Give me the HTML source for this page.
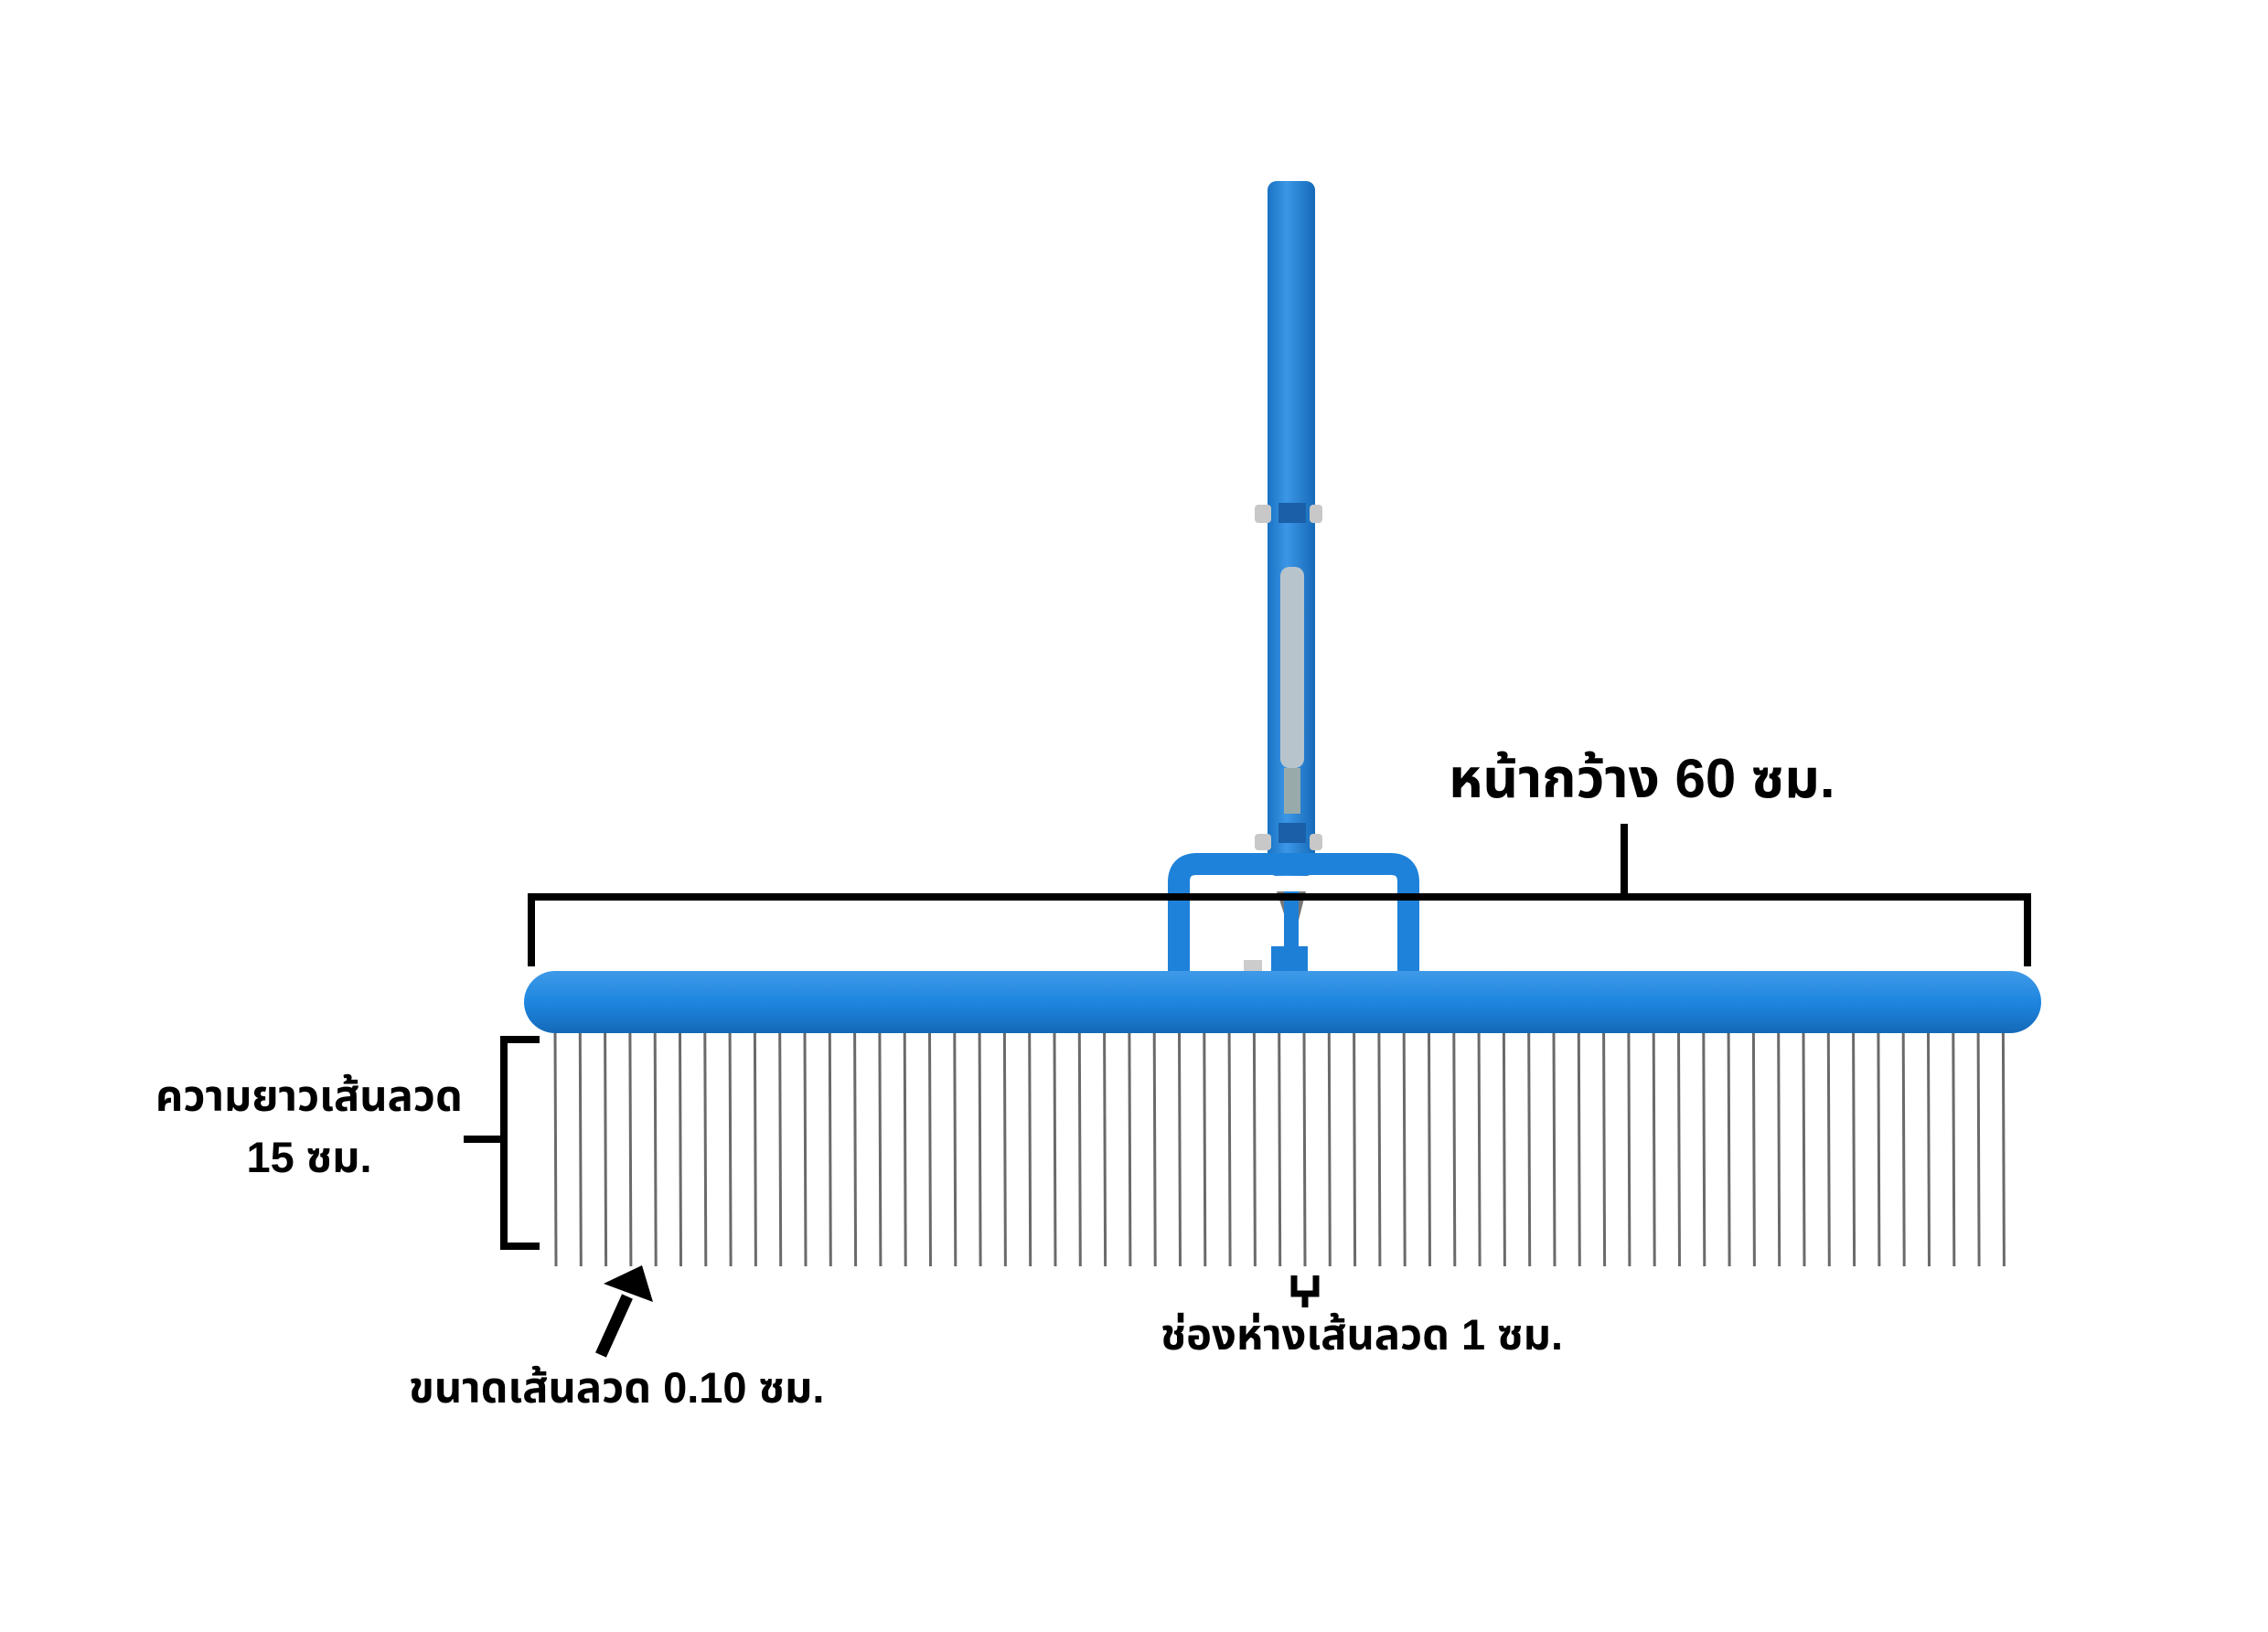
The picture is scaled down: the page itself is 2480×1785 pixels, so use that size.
<!DOCTYPE html>
<html><head><meta charset="utf-8"><style>
html,body{margin:0;padding:0;background:#fff;}
svg{display:block}
text{font-family:"Liberation Sans","Noto Sans Thai","Tlwg Typo",sans-serif;font-weight:bold;fill:#000}
</style></head><body>
<svg width="2480" height="1785" viewBox="0 0 2480 1785" xmlns="http://www.w3.org/2000/svg">
<defs>
<linearGradient id="bar" x1="0" y1="0" x2="0" y2="1">
<stop offset="0" stop-color="#3f9ae8"/><stop offset="0.5" stop-color="#1e86e0"/><stop offset="1" stop-color="#1469b8"/>
</linearGradient>
<linearGradient id="hdl" x1="0" y1="0" x2="1" y2="0">
<stop offset="0" stop-color="#1a72c4"/><stop offset="0.4" stop-color="#3b97e6"/><stop offset="1" stop-color="#166ab8"/>
</linearGradient>
</defs>
<g id="tines" stroke="#6a6a6a" stroke-width="3" fill="none"></g>
<!-- handle -->
<rect x="1386" y="198" width="52" height="760" rx="10" fill="url(#hdl)"/>
<rect x="1398" y="550" width="30" height="22" fill="#1a5fa8"/>
<rect x="1372" y="552" width="18" height="20" rx="4" fill="#c8c8c8"/>
<rect x="1432" y="552" width="14" height="20" rx="4" fill="#c8c8c8"/>
<rect x="1400" y="620" width="26" height="220" rx="10" fill="#b8c4cc"/>
<rect x="1404" y="840" width="18" height="50" fill="#9aa"/>
<rect x="1398" y="900" width="30" height="22" fill="#1a5fa8"/>
<rect x="1372" y="912" width="18" height="18" rx="4" fill="#c8c8c8"/>
<rect x="1432" y="912" width="14" height="18" rx="4" fill="#c8c8c8"/>
<polygon points="1396,975 1428,975 1414,1030" fill="#777"/>
<rect x="1404" y="975" width="16" height="80" fill="#1e7fd6"/>
<rect x="1360" y="1050" width="20" height="15" fill="#ccc"/>
<rect x="1390" y="1035" width="40" height="30" fill="#1e7fd6"/>
<!-- frame -->
<path d="M1289,1070 V965 Q1289,945 1309,945 H1520 Q1540,945 1540,965 V1070" fill="none" stroke="#1e82da" stroke-width="24"/>
<!-- bar -->
<rect x="573" y="1062" width="1659" height="68" rx="34" fill="url(#bar)"/>
<!-- width bracket -->
<path d="M581,1057 V981 H2217 V1057 M1776,981 V901" fill="none" stroke="#000" stroke-width="8"/>
<text x="1584" y="872" font-size="60">หน้ากว้าง 60 ซม.</text>
<!-- left bracket -->
<path d="M590,1137 H551 V1363 H590 M507,1246 H551" fill="none" stroke="#000" stroke-width="8"/>
<text x="170" y="1215" font-size="47">ความยาวเส้นลวด</text>
<text x="338" y="1282" font-size="47" text-anchor="middle">15 ซม.</text>
<!-- arrow -->
<line x1="657" y1="1482" x2="686" y2="1418" stroke="#000" stroke-width="13"/>
<polygon points="702,1384 714,1424 660,1404" fill="#000"/>
<text x="447" y="1534" font-size="47">ขนาดเส้นลวด 0.10 ซม.</text>
<!-- spacing mark -->
<path d="M1415,1395 V1415 H1439 V1395 M1427,1415 V1430" fill="none" stroke="#000" stroke-width="7"/>
<text x="1269" y="1476" font-size="47">ช่องห่างเส้นลวด 1 ซม.</text>
</svg>
<script>
var g=document.getElementById('tines');var s='';
for(var i=0;i<59;i++){var x=607+i*27.3;s+='<line x1="'+x+'" y1="1130" x2="'+(x+1)+'" y2="1385"/>';}
g.innerHTML=s;
</script>
</body></html>
